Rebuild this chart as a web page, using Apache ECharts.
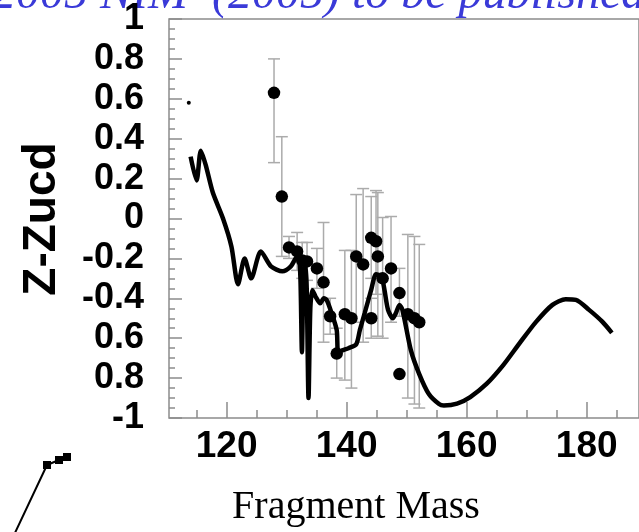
<!DOCTYPE html>
<html><head><meta charset="utf-8">
<script src="https://cdn.jsdelivr.net/npm/echarts@6/dist/echarts.min.js"></script>
<style>html,body{margin:0;padding:0;background:#fff}#c{width:639px;height:532px}</style>
</head><body><div id="c"></div>
<script>
// ---- data ----
const xLabelValues = [120, 140, 160, 180];
const xMinorValues = [115, 125, 130, 135, 145, 150, 155, 165, 170, 175, 185];
const yTickLabels = ['-1', '0.8', '0.6', '-0.4', '-0.2', '0', '0.2', '0.4', '0.6', '0.8', '1'];

const pointX = [127.9, 129.2, 130.4, 131.75, 132.6, 133.4, 135.05, 136.15, 137.25, 138.35, 139.7, 140.8, 141.6, 142.75, 144.1, 144.1, 144.9, 145.2, 146.0, 147.4, 148.8, 148.8, 150.2, 151.3, 152.1];
const pointY = [0.63, 0.11, -0.145, -0.165, -0.21, -0.215, -0.25, -0.32, -0.49, -0.677, -0.48, -0.50, -0.19, -0.23, -0.50, -0.097, -0.114, -0.19, -0.30, -0.25, -0.374, -0.78, -0.48, -0.50, -0.52];
const errLow = [0.28, -0.19, -0.20, -0.26, -0.30, -0.31, -0.35, -0.62, -0.58, -0.80, -0.81, -0.85, -0.52, -0.62, -0.60, -0.30, -0.38, -0.59, -0.60, -0.52, -0.49, null, -0.90, -0.93, -0.95];
const errHigh = [0.80, 0.41, -0.09, -0.07, -0.12, -0.12, -0.15, -0.02, -0.40, -0.55, -0.16, -0.16, 0.12, 0.15, -0.40, 0.11, 0.14, 0.13, 0.005, 0.01, -0.25, null, -0.08, -0.09, -0.13];

const curveX = [114.0, 115.0, 115.7, 116.5, 117.7, 119.4, 120.8, 121.9, 123.0, 124.1, 125.7, 127.4, 129.3, 130.7, 131.5, 132.0, 132.3, 132.55, 132.8, 133.1, 133.35, 133.65, 133.95, 134.3, 134.8, 135.6, 136.2, 136.7, 137.5, 138.35, 138.6, 139.4, 140.3, 141.6, 142.2, 143.0, 144.1, 144.9, 145.8, 146.3, 146.9, 147.7, 148.2, 148.8, 149.3, 150.7, 152.1, 153.7, 155.4, 156.2, 158.4, 160.6, 163.35, 166.1, 168.8, 171.6, 174.3, 176.5, 178.2, 180.4, 182.6, 184.2];
const curveY = [0.31, 0.19, 0.34, 0.27, 0.13, 0.0, -0.14, -0.33, -0.20, -0.30, -0.165, -0.24, -0.265, -0.24, -0.20, -0.19, -0.30, -0.67, -0.30, -0.22, -0.35, -0.90, -0.45, -0.36, -0.39, -0.425, -0.40, -0.41, -0.475, -0.56, -0.67, -0.66, -0.65, -0.63, -0.56, -0.475, -0.357, -0.28, -0.29, -0.357, -0.458, -0.50, -0.475, -0.433, -0.458, -0.66, -0.78, -0.88, -0.93, -0.937, -0.928, -0.895, -0.828, -0.735, -0.626, -0.517, -0.433, -0.405, -0.408, -0.458, -0.517, -0.573];

const strayX = [113.7];
const strayY = [0.58];

// fragment of a neighbouring plot (bottom-left corner)
const insetX = [14, 47, 59, 67];
const insetY = [-3, 67, 72, 75];
const insetMarkX = [47, 59, 67];
const insetMarkY = [67, 72, 75];

// ---- chart ----
const chart = echarts.init(document.getElementById('c'), null, {renderer: 'canvas'});
const gray = '#8c8c8c';
const sans = '"Liberation Sans", Arial, Helvetica, sans-serif';
const serif = '"Liberation Serif", "Times New Roman", serif';

const option = {
  backgroundColor: '#fff',
  animation: false,
  grid: [
    {left: 169, top: 19, right: -5, bottom: 114, show: true, borderColor: gray, borderWidth: 1.5, backgroundColor: 'transparent'},
    {left: 0, top: 432, width: 100, height: 100}
  ],
  xAxis: [
    {type: 'value', gridIndex: 0, min: 110.4, max: 188.72, position: 'bottom',
      axisLine: {show: false, onZero: false}, splitLine: {show: false},
      axisTick: {show: true, inside: true, length: 16, customValues: xLabelValues, lineStyle: {color: gray, width: 1.5}},
      axisLabel: {show: true, customValues: xLabelValues, margin: 10, fontSize: 37, fontWeight: 'bold', fontFamily: sans, color: '#000'}},
    {type: 'value', gridIndex: 0, min: 110.4, max: 188.72, position: 'bottom',
      axisLine: {show: false, onZero: false}, splitLine: {show: false},
      axisTick: {show: true, inside: true, length: 8, customValues: xMinorValues, lineStyle: {color: gray, width: 1.5}},
      axisLabel: {show: false}},
    {type: 'value', gridIndex: 1, min: 0, max: 100, show: false}
  ],
  yAxis: [
    {type: 'value', gridIndex: 0, min: -1, max: 1, interval: 0.2,
      axisLine: {show: false, onZero: false}, splitLine: {show: false},
      axisTick: {show: true, inside: true, length: 13, lineStyle: {color: gray, width: 1.5}},
      minorTick: {show: true, splitNumber: 4, length: 6, lineStyle: {color: gray, width: 1.5}},
      axisLabel: {margin: 25, fontSize: 36, fontWeight: 'bold', fontFamily: sans, color: '#000',
        formatter: v => yTickLabels[Math.round((v + 1) / 0.2)]}},
    {type: 'value', gridIndex: 1, min: 0, max: 100, show: false}
  ],
  series: [
    {type: 'custom', xAxisIndex: 0, yAxisIndex: 0, z: 1,
      data: pointX.map((x, i) => [x, errLow[i], errHigh[i]]),
      renderItem: function (params, api) {
        const lo = api.value(1), hi = api.value(2);
        if (isNaN(lo) || isNaN(hi)) return null;
        const x = api.value(0);
        const a = api.coord([x, lo]), b = api.coord([x, hi]);
        const c = 6, st = {stroke: '#ababab', lineWidth: 1.5};
        return {type: 'group', children: [
          {type: 'line', shape: {x1: a[0], y1: a[1], x2: b[0], y2: b[1]}, style: st},
          {type: 'line', shape: {x1: a[0] - c, y1: a[1], x2: a[0] + c, y2: a[1]}, style: st},
          {type: 'line', shape: {x1: b[0] - c, y1: b[1], x2: b[0] + c, y2: b[1]}, style: st}
        ]};
      }},
    {type: 'line', xAxisIndex: 0, yAxisIndex: 0, z: 2, symbol: 'none', smooth: 0.25,
      data: curveX.map((x, i) => [x, curveY[i]]),
      lineStyle: {color: '#000', width: 4.5}},
    {type: 'scatter', xAxisIndex: 0, yAxisIndex: 0, z: 3, symbol: 'circle', symbolSize: 12.5,
      data: pointX.map((x, i) => [x, pointY[i]]), itemStyle: {color: '#000', opacity: 1}},
    {type: 'scatter', xAxisIndex: 0, yAxisIndex: 0, z: 3, symbol: 'circle', symbolSize: 4,
      data: strayX.map((x, i) => [x, strayY[i]]), itemStyle: {color: '#000', opacity: 1}},
    {type: 'line', xAxisIndex: 2, yAxisIndex: 1, symbol: 'none',
      data: insetX.map((x, i) => [x, insetY[i]]), lineStyle: {color: '#000', width: 2}},
    {type: 'scatter', xAxisIndex: 2, yAxisIndex: 1, symbol: 'rect', symbolSize: 8,
      data: insetMarkX.map((x, i) => [x, insetMarkY[i]]), itemStyle: {color: '#000', opacity: 1}}
  ],
  graphic: [
    {type: 'text', left: -8, top: -29, style: {text: '2005 NIM  (2005) to be published', fontFamily: serif, fontStyle: 'italic', fontSize: 48, fill: '#3a3ad8'}},
    {type: 'text', x: 42, y: 219, rotation: Math.PI / 2, style: {text: 'Z-Zucd', fontFamily: sans, fontWeight: 'bold', fontSize: 46, fill: '#000', align: 'center', verticalAlign: 'middle'}},
    {type: 'text', x: 356, y: 507, style: {text: 'Fragment Mass', fontFamily: serif, fontSize: 40, fill: '#000', align: 'center', verticalAlign: 'middle'}}
  ]
};
chart.setOption(option);
</script>
</body></html>
